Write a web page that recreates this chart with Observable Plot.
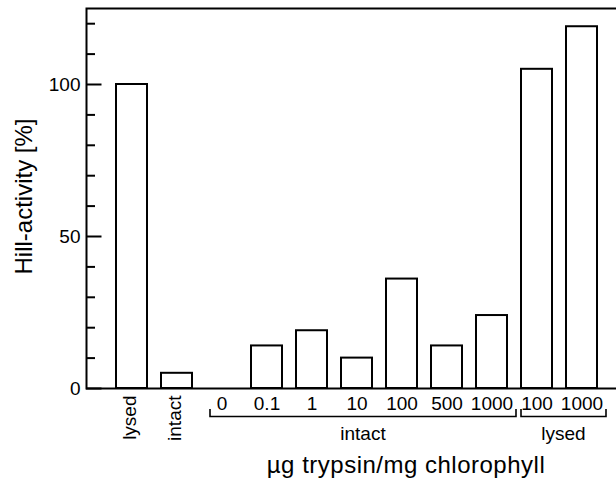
<!DOCTYPE html>
<html>
<head>
<meta charset="utf-8">
<script src="https://cdn.jsdelivr.net/npm/d3@7"></script>
<script src="https://cdn.jsdelivr.net/npm/@observablehq/plot@0.6"></script>
<style>
  html, body { margin: 0; padding: 0; background: #fff; overflow: hidden; }
</style>
</head>
<body>
<div id="chart"></div>
<script>
// ---- data ----
const barKeys   = ["lysed", "intact", "i0", "i0.1", "i1", "i10", "i100", "i500", "i1000", "l100", "l1000"];
const barLabels = ["lysed", "intact", "0", "0.1", "1", "10", "100", "500", "1000", "100", "1000"];
const barValues = [100, 5, 0, 14, 19, 10, 36, 14, 24, 105, 119];
const rotatedKeys = ["lysed", "intact"];

const groupNames = ["intact", "lysed"];
const groupFirst = ["i0", "l100"];
const groupLast  = ["i1000", "l1000"];

const yMajorTicks = [0, 50, 100];
const yMinorTicks = [10, 20, 30, 40, 60, 70, 80, 90, 110, 120];

const yTitle = "Hill-activity [%]";
const xTitle = "\u00b5g trypsin/mg chlorophyll";

const data = barKeys.map((k, i) => ({key: k, label: barLabels[i], value: barValues[i]}));
const labelOf = new Map(barKeys.map((k, i) => [k, barLabels[i]]));
const numericKeys = barKeys.filter(k => !rotatedKeys.includes(k));

const FONT = "'Liberation Sans', Arial, Helvetica, sans-serif";

// brackets + group labels + x title, drawn with Plot's scales
function brackets(index, scales, values, dimensions) {
  const {x, y} = scales;
  const bw = x.bandwidth();
  const y0 = y(0);
  const g = d3.create("svg:g").attr("font-family", FONT);
  let minX = Infinity, maxX = -Infinity;
  groupNames.forEach((name, i) => {
    const x1 = x(groupFirst[i]) + (i === 0 ? 4 : 0);
    const x2 = x(groupLast[i]) + bw + 9;
    minX = Math.min(minX, x1); maxX = Math.max(maxX, x2);
    const yb = y0 + 28.5, yt = y0 + 21;
    g.append("path")
      .attr("d", `M${x1},${yt}V${yb}H${x2}V${yt}`)
      .attr("fill", "none").attr("stroke", "black").attr("stroke-width", 1.6);
    g.append("text")
      .attr("x", (x1 + x2) / 2).attr("y", y0 + 45)
      .attr("text-anchor", "middle").attr("dy", "0.35em")
      .attr("font-size", 19).text(name);
  });
  g.append("text")
    .attr("x", (minX + maxX) / 2 - 2).attr("y", y0 + 77)
    .attr("text-anchor", "middle").attr("dy", "0.35em")
    .attr("font-size", 24).attr("letter-spacing", 0.5).text(xTitle);
  return g.node();
}

const chart = Plot.plot({
  width: 616,
  height: 480,
  marginLeft: 86,
  marginRight: 0,
  marginTop: 8,
  marginBottom: 92,
  style: {fontFamily: FONT, fontSize: "19px", background: "white", color: "black"},
  x: {domain: barKeys, range: [86, 627], paddingInner: 0.313, paddingOuter: 0.65, axis: null},
  y: {domain: [0, 125], axis: null},
  marks: [
    Plot.barY(data, {x: "key", y: "value", fill: "white", stroke: "black", strokeWidth: 2}),
    Plot.frame({stroke: "black", strokeWidth: 2, insetRight: -4}),
    Plot.axisY(yMinorTicks, {tickSize: -9, tickFormat: () => "", strokeWidth: 2, label: null}),
    Plot.axisY(yMajorTicks, {tickSize: -15.5, tickFormat: () => "", strokeWidth: 2, label: null}),
    Plot.axisY(yMajorTicks, {tickSize: 0, tickPadding: 6, fontSize: 19, label: null}),
    Plot.text(numericKeys, {x: d => d, text: d => labelOf.get(d), frameAnchor: "bottom", lineAnchor: "middle", dy: 15.5, fontSize: 19}),
    Plot.text(rotatedKeys, {x: d => d, text: d => d, frameAnchor: "bottom", lineAnchor: "middle", rotate: -90, textAnchor: "end", dy: 7, dx: -2, fontSize: 19}),
    Plot.text([yTitle], {frameAnchor: "left", textAnchor: "middle", lineAnchor: "middle", rotate: -90, dx: -62, dy: -2, fontSize: 24, letterSpacing: 0.5}),
    brackets
  ]
});

document.getElementById("chart").appendChild(chart);
</script>
</body>
</html>
